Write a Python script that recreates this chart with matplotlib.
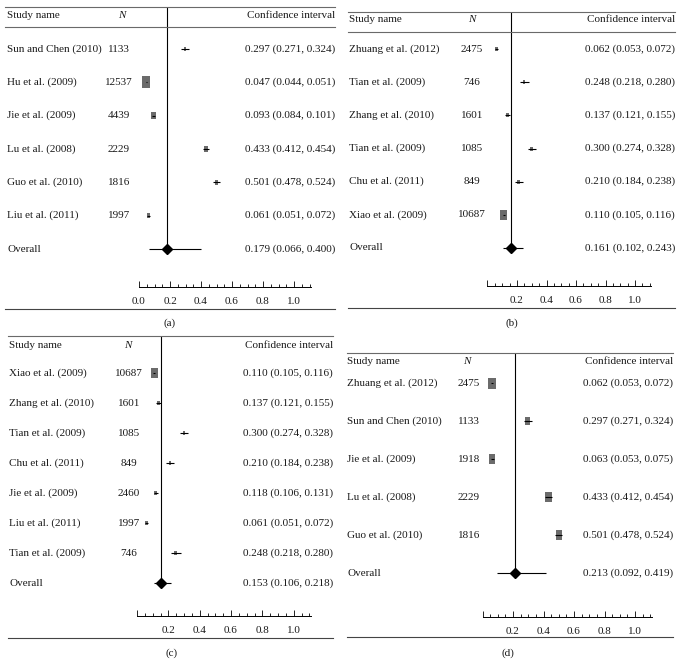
import matplotlib
matplotlib.use("Agg")
import matplotlib.pyplot as plt
import numpy as np
from matplotlib import transforms
from matplotlib.lines import Line2D

W, H = 683, 664
FS = 8
plt.rcParams["font.family"] = ["Liberation Serif", "DejaVu Serif"]

# panel (a)
A_STUDIES = ["Sun and Chen (2010)", "Hu et al. (2009)", "Jie et al. (2009)",
             "Lu et al. (2008)", "Guo et al. (2010)", "Liu et al. (2011)"]
A_N = [1133, 12537, 4439, 2229, 1816, 1997]
A_EST = [0.297, 0.047, 0.093, 0.433, 0.501, 0.061]
A_LO = [0.271, 0.044, 0.084, 0.412, 0.478, 0.051]
A_HI = [0.324, 0.051, 0.101, 0.454, 0.524, 0.072]
A_OVERALL = (0.179, 0.066, 0.400)

# panel (b)
B_STUDIES = ["Zhuang et al. (2012)", "Tian et al. (2009)", "Zhang et al. (2010)",
             "Tian et al. (2009)", "Chu et al. (2011)", "Xiao et al. (2009)"]
B_N = [2475, 746, 1601, 1085, 849, 10687]
B_EST = [0.062, 0.248, 0.137, 0.300, 0.210, 0.110]
B_LO = [0.053, 0.218, 0.121, 0.274, 0.184, 0.105]
B_HI = [0.072, 0.280, 0.155, 0.328, 0.238, 0.116]
B_OVERALL = (0.161, 0.102, 0.243)

# panel (c)
C_STUDIES = ["Xiao et al. (2009)", "Zhang et al. (2010)", "Tian et al. (2009)",
             "Chu et al. (2011)", "Jie et al. (2009)", "Liu et al. (2011)",
             "Tian et al. (2009)"]
C_N = [10687, 1601, 1085, 849, 2460, 1997, 746]
C_EST = [0.110, 0.137, 0.300, 0.210, 0.118, 0.061, 0.248]
C_LO = [0.105, 0.121, 0.274, 0.184, 0.106, 0.051, 0.218]
C_HI = [0.116, 0.155, 0.328, 0.238, 0.131, 0.072, 0.280]
C_OVERALL = (0.153, 0.106, 0.218)

# panel (d)
D_STUDIES = ["Zhuang et al. (2012)", "Sun and Chen (2010)", "Jie et al. (2009)",
             "Lu et al. (2008)", "Guo et al. (2010)"]
D_N = [2475, 1133, 1918, 2229, 1816]
D_EST = [0.062, 0.297, 0.063, 0.433, 0.501]
D_LO = [0.053, 0.271, 0.053, 0.412, 0.478]
D_HI = [0.072, 0.324, 0.075, 0.454, 0.524]
D_OVERALL = (0.213, 0.092, 0.419)

LINE_COL = "#6a6a6a"
TEXT_COL = "#1a1a1a"
BOX_COL = "#6b6b6b"
BOX = [(-0.35, -0.5), (0.35, -0.5), (0.35, 0.5), (-0.35, 0.5), (-0.35, -0.5)]


def hline(fig, x0, x1, y, color=LINE_COL, lw=0.8):
    fig.add_artist(Line2D([x0 / W, x1 / W], [1 - y / H, 1 - y / H],
                          transform=fig.transFigure, color=color, lw=lw))


def forest(fig, studies, n, est, lo, hi, overall, lay, tag):
    k = len(studies)
    xmax = 1.11
    ax = fig.add_axes([lay["x0"] / W, 1 - lay["axis"] / H,
                       xmax * lay["ppu"] / W, (lay["axis"] - lay["top"]) / H])
    step = (lay["over"] - lay["first"]) / k
    ax.set_xlim(0, xmax)
    ax.set_ylim((lay["first"] - lay["axis"]) / step, (lay["first"] - lay["top"]) / step)
    ax.patch.set_visible(False)
    for s in ("top", "left", "right"):
        ax.spines[s].set_visible(False)
    ax.spines["bottom"].set_linewidth(0.7)
    ax.set_yticks([])
    major = np.arange(0, 1.01, 0.2)
    ax.set_xticks(major)
    ax.set_xticklabels([f"{v:.1f}" if (v > 0 or lay["zero"]) else "" for v in major])
    ax.set_xticks(np.arange(0, 1.101, 0.05), minor=True)
    ax.tick_params(axis="x", which="major", direction="in", length=4, width=0.6,
                   pad=7.5, labelsize=FS, labelcolor=TEXT_COL)
    ax.tick_params(axis="x", which="minor", direction="in", length=2.5, width=0.6)

    y = -np.arange(k)
    n_arr = np.array(n, dtype=float)
    h_px = np.maximum(lay["box"] * np.sqrt(n_arr / n_arr.max()), 4)
    sizes = (h_px * 72 / 100) ** 2
    ax.scatter(est, y, s=sizes, marker=BOX, color=BOX_COL, linewidths=0, zorder=2)
    ax.hlines(y, lo, hi, color="black", lw=0.8, zorder=3)

    oy = -k
    ax.hlines(oy, overall[1], overall[2], color="black", lw=0.8, zorder=3)
    ax.plot([overall[0]], [oy], marker="D", ms=4.8, color="black", zorder=4)
    ax.vlines(overall[0], oy, ax.get_ylim()[1], color="black", lw=0.8, zorder=1)

    trans = transforms.blended_transform_factory(fig.transFigure, ax.transData)
    names = list(studies) + ["Overall"]
    cis = [f"{e:.3f} ({l:.3f}, {h:.3f})" for e, l, h in zip(est, lo, hi)]
    cis.append(f"{overall[0]:.3f} ({overall[1]:.3f}, {overall[2]:.3f})")
    for i, (name, ci) in enumerate(zip(names, cis)):
        ax.text(lay["name_x"] / W, -i, name, transform=trans, ha="left", va="center",
                fontsize=FS, color=TEXT_COL)
        ax.text(lay["ci_x"] / W, -i, ci, transform=trans, ha="right", va="center",
                fontsize=FS, color=TEXT_COL)
        if i < k:
            ax.text(lay["n_x"] / W, -i, str(n[i]), transform=trans, ha="center",
                    va="center", fontsize=FS, color=TEXT_COL)

    hy = 1 - lay["head"] / H
    fig.text(lay["name_x"] / W, hy, "Study name", ha="left", va="center",
             fontsize=FS, color=TEXT_COL)
    fig.text(lay["nhead_x"] / W, hy, "N", ha="center", va="center", fontsize=FS,
             style="italic", color=TEXT_COL)
    fig.text(lay["ci_x"] / W, hy, "Confidence interval", ha="right", va="center",
             fontsize=FS, color=TEXT_COL)

    hline(fig, lay["left"], lay["right"], lay["top"])
    if lay.get("head_line"):
        hline(fig, lay["left"], lay["right"], lay["head_line"])
    hline(fig, lay["left"], lay["right"], lay["bottom"], color="#444444")
    fig.text(lay["tag_x"] / W, 1 - lay["tag_y"] / H, tag, ha="center", va="center",
             fontsize=FS, color=TEXT_COL)
    return ax


fig = plt.figure(figsize=(W / 100, H / 100), dpi=100)

forest(fig, A_STUDIES, A_N, A_EST, A_LO, A_HI, A_OVERALL,
       dict(left=5, right=335, top=7, head=16, head_line=27, first=49, over=249,
            axis=287, bottom=309, x0=139, ppu=155, name_x=7, nhead_x=122, n_x=119,
            ci_x=335, tag_x=170, tag_y=323, box=12, zero=True), "(a)")
forest(fig, B_STUDIES, B_N, B_EST, B_LO, B_HI, B_OVERALL,
       dict(left=348, right=675, top=12, head=20, head_line=32, first=49, over=248,
            axis=286, bottom=308, x0=487.5, ppu=147.5, name_x=349, nhead_x=472,
            n_x=472, ci_x=675, tag_x=512, tag_y=323, box=9.5, zero=False), "(b)")
forest(fig, C_STUDIES, C_N, C_EST, C_LO, C_HI, C_OVERALL,
       dict(left=8, right=333, top=336, head=346, first=373, over=583,
            axis=616, bottom=638, x0=137, ppu=156.7, name_x=9, nhead_x=128,
            n_x=129, ci_x=333, tag_x=172, tag_y=653, box=10, zero=False), "(c)")
forest(fig, D_STUDIES, D_N, D_EST, D_LO, D_HI, D_OVERALL,
       dict(left=347, right=673, top=353, head=361, first=383, over=573,
            axis=617, bottom=637, x0=482.5, ppu=152.5, name_x=347, nhead_x=467,
            n_x=469, ci_x=673, tag_x=508, tag_y=653, box=11, zero=False), "(d)")

fig.savefig("out.png", dpi=100)
